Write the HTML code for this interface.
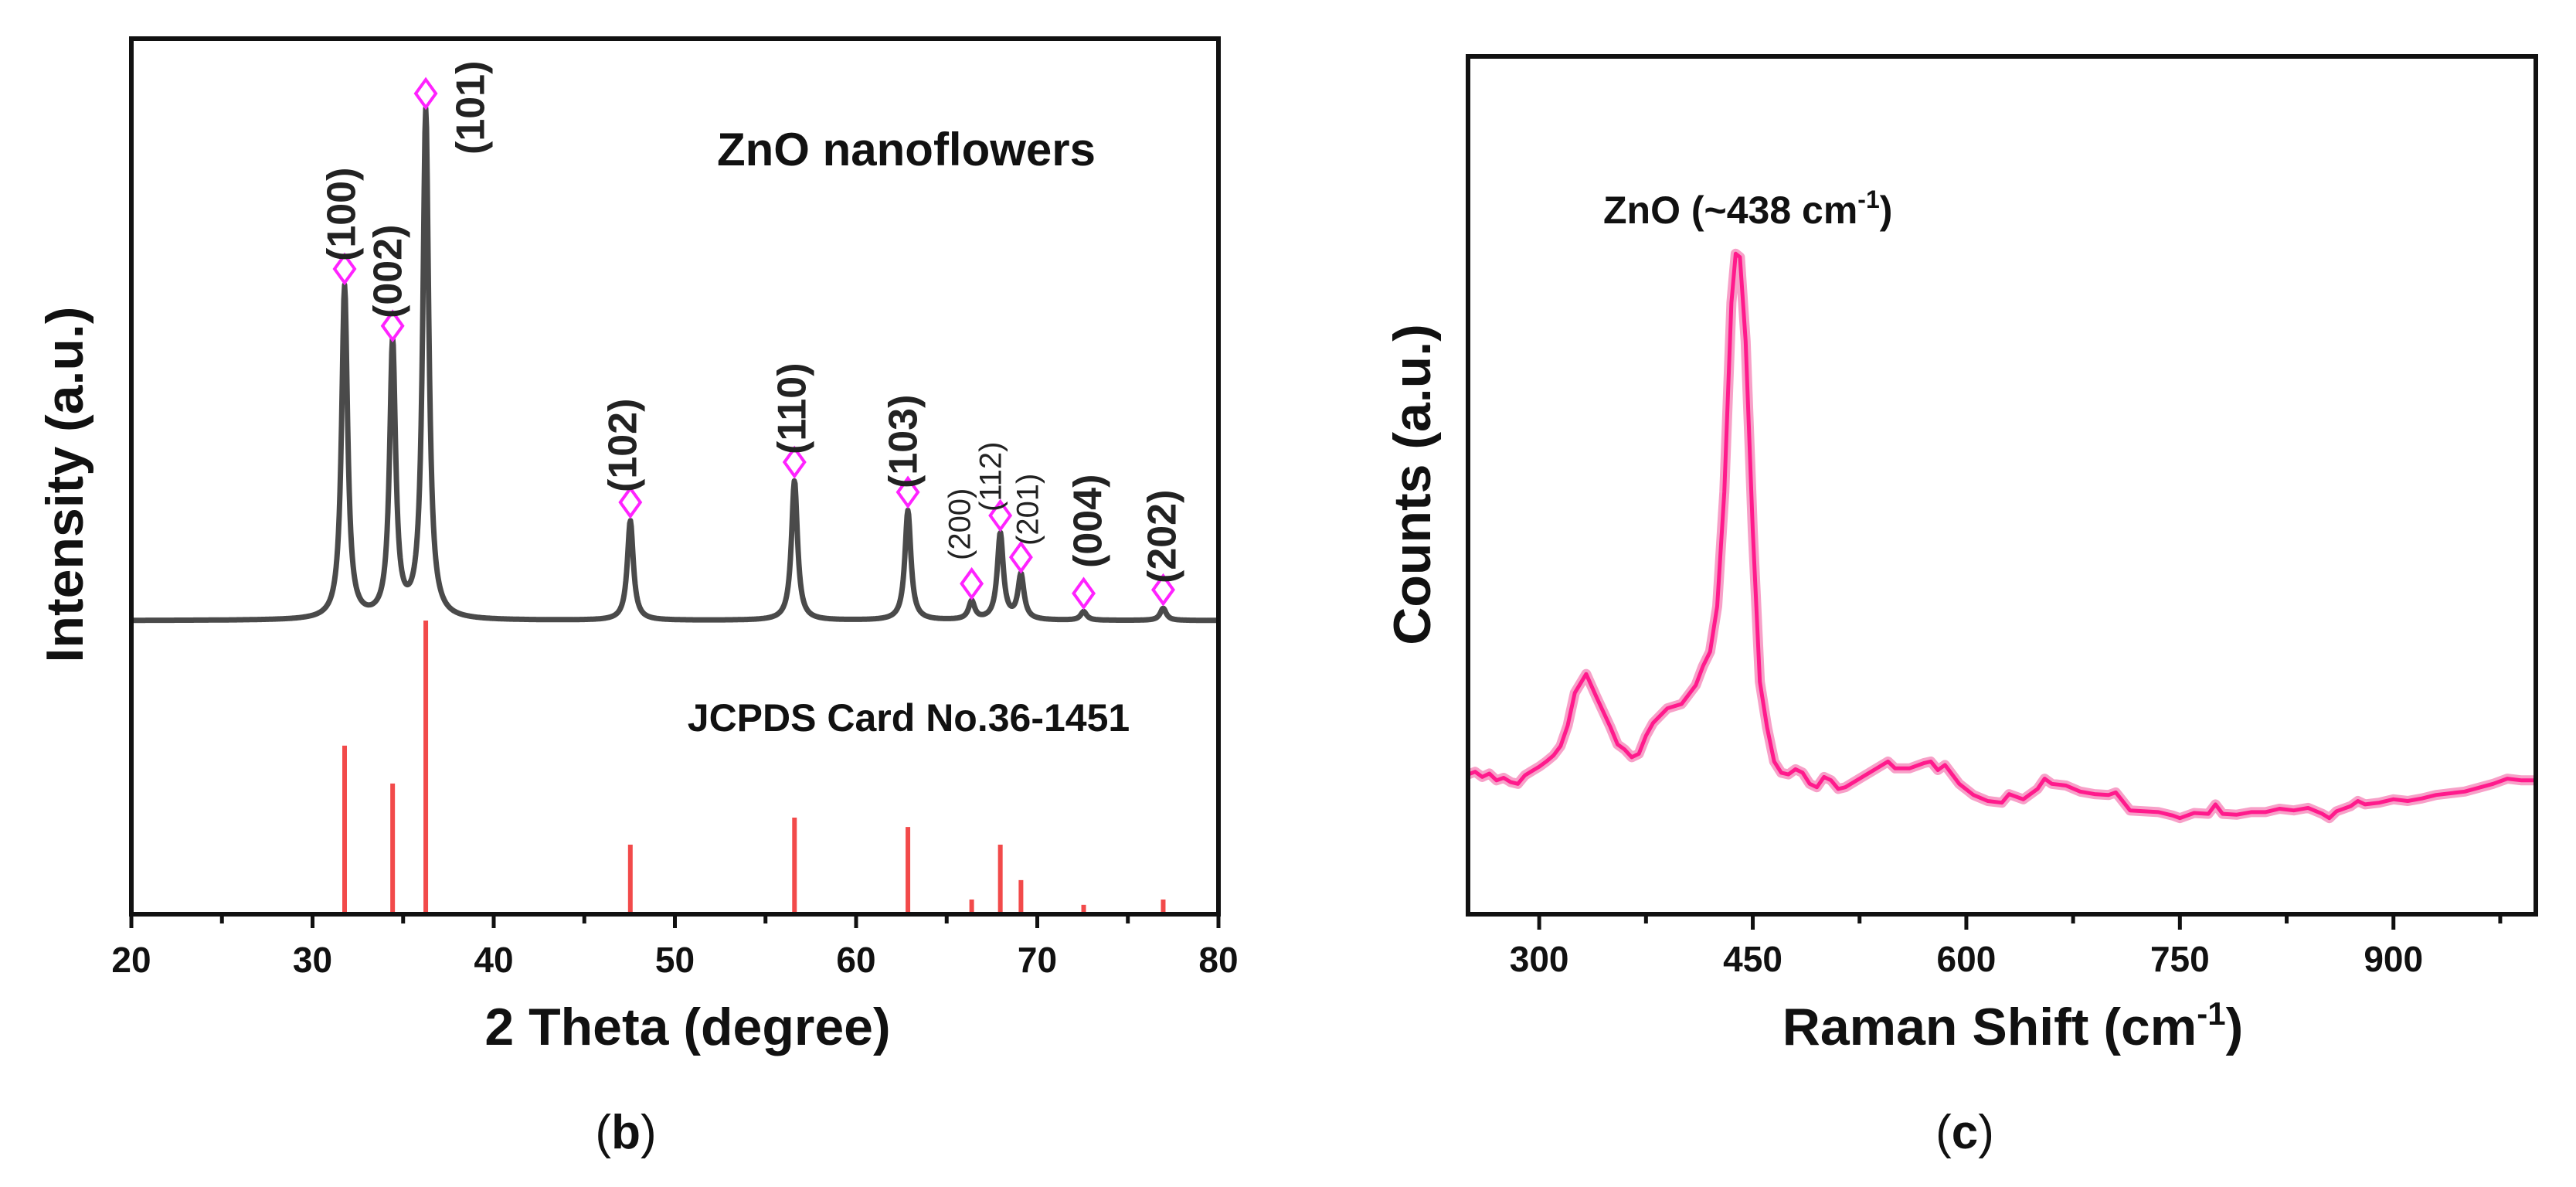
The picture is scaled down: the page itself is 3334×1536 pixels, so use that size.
<!DOCTYPE html>
<html><head><meta charset="utf-8"><style>
body{margin:0;background:#fff;}
svg{display:block;}
text{font-family:"Liberation Sans",Arial,sans-serif;}
</style></head><body>
<svg id="fig" width="3334" height="1536" viewBox="0 0 3334 1536" xmlns="http://www.w3.org/2000/svg">
<rect width="3334" height="1536" fill="#fff"/>
<g id="xrd"></g>
<g id="raman"></g>
</svg>
<script>
// XRD data
const peakPos = [31.77, 34.42, 36.25, 47.54, 56.6, 62.86, 66.38, 67.96, 69.1, 72.56, 76.95];
const peakLabels = ["(100)","(002)","(101)","(102)","(110)","(103)","(200)","(112)","(201)","(004)","(202)"];
const peakIntensity = [65.5, 54.3, 100, 19.6, 27.5, 21.6, 3.6, 17, 8.8, 1.7, 2.4];
const cardIntensity = [57.4, 44.5, 100, 23.7, 32.9, 29.7, 5, 23.7, 11.6, 3.2, 5];
const xrdTicks = [20, 30, 40, 50, 60, 70, 80];
// Raman data
const ramanShift = [250,255,260,265,270,275,280,285,290,295,300,305,310,315,320,325,333,340,350,355,360,365,370,375,380,390,400,410,415,420,425,430,435,438,441,445,450,455,460,465,470,475,480,485,490,495,500,505,510,515,525,535,545,550,560,570,575,580,585,595,605,615,625,630,640,650,655,660,670,680,690,700,705,715,735,745,750,760,770,775,780,790,800,810,820,830,840,850,855,860,870,875,880,890,900,910,920,930,950,970,980,990,1000];
const ramanCounts = [16.3,16.6,16.0,16.4,15.6,15.9,15.4,15.2,16.2,16.7,17.2,17.8,18.5,19.6,22.0,25.8,28.0,25.4,21.8,19.8,19.2,18.3,18.7,20.8,22.3,24.0,24.5,26.7,28.9,30.6,35.9,49.2,71.3,77.0,76.6,66.8,44.8,27.1,21.8,17.8,16.5,16.3,16.9,16.5,15.2,14.8,16.0,15.6,14.6,14.8,15.8,16.8,17.8,17.0,17.0,17.6,17.8,16.8,17.4,15.2,13.9,13.2,13.0,14.0,13.4,14.6,15.8,15.2,15.0,14.3,14.0,13.9,14.2,12.1,11.9,11.5,11.2,11.8,11.7,12.8,11.7,11.6,11.9,11.9,12.3,12.1,12.4,11.7,11.2,12.0,12.6,13.2,12.8,13.0,13.4,13.2,13.5,13.9,14.3,15.2,15.8,15.6,15.6];
const ramanTicks = [300, 450, 600, 750, 900];

const NS="http://www.w3.org/2000/svg";
function mk(parent,tag,attrs,text){const e=document.createElementNS(NS,tag);for(const k in attrs)e.setAttribute(k,attrs[k]);if(text!==undefined)e.textContent=text;parent.appendChild(e);return e;}

// ---------- XRD ----------
const gx=document.getElementById('xrd');
const L=170,R=1577,T=50,B=1183,BASE=803;
const xS=v=>L+(v-20)/60*(R-L);
const yXrd=v=>BASE-v*6.58;
const yCard=v=>B-v*3.8;
let d="";
for(let px=L;px<=R;px+=1){
  const tt=20+(px-L)/(R-L)*60;
  let s=0;
  for(let i=0;i<peakPos.length;i++){const g=0.2;s+=peakIntensity[i]*g*g/((tt-peakPos[i])**2+g*g);}
  d+=(px===L?"M":"L")+px+","+yXrd(s).toFixed(1);
}
let c=mk(gx,'path',{d:d,fill:'none',stroke:'#4a4a4a','stroke-width':7,'stroke-linejoin':'round'});


for(let i=0;i<peakPos.length;i++){
  const x=xS(peakPos[i]);
  const s=mk(gx,'line',{x1:x,x2:x,y1:B,y2:yCard(cardIntensity[i]),stroke:'#f24a4a','stroke-width':6});
  
  
  const yt=yXrd(peakIntensity[i])-24;
  const dm=mk(gx,'path',{d:`M${x},${yt-18} L${x+13},${yt} L${x},${yt+18} L${x-13},${yt} Z`,fill:'#fff',stroke:'#ff22ff','stroke-width':4});
  
  
}
// labels: [x center, bottom y, small]
const lblPlace=[[446,338,0],[506,412,0],[613,200,0],[810,637,0],[1029,588,0],[1173,632,0],[1245,725,1],[1285,662,1],[1333,706,1],[1412,735,0],[1508,755,0]];
for(let i=0;i<peakLabels.length;i++){
  const [x,y,sm]=lblPlace[i];
  const t=mk(gx,'text',{x:0,y:0,transform:`translate(${x},${y}) rotate(-90)`,'font-size':sm?40:52,'font-weight':sm?'normal':'bold',fill:'#222','dominant-baseline':'middle'},peakLabels[i]);
  
  
}
let f=mk(gx,'rect',{x:L,y:T,width:R-L,height:B-T,fill:'none',stroke:'#111','stroke-width':6});


for(let v=20;v<=80;v+=5){
  const tk=mk(gx,'line',{x1:xS(v),x2:xS(v),y1:B,y2:B+(v%10===0?18:12),stroke:'#111','stroke-width':5});
  
  
}
xrdTicks.forEach(v=>{
  const t=mk(gx,'text',{x:xS(v),y:1258,'font-size':46,'font-weight':'bold','text-anchor':'middle',fill:'#111'},String(v));
  
  
});
let t1=mk(gx,'text',{x:1173,y:214,'font-size':60,'font-weight':'bold','text-anchor':'middle',fill:'#111'},'ZnO nanoflowers');


let t2=mk(gx,'text',{x:1176,y:946,'font-size':50,'font-weight':'bold','text-anchor':'middle',fill:'#111'},'JCPDS Card No.36-1451');


let t3=mk(gx,'text',{x:890,y:1352,'font-size':68,'font-weight':'bold','text-anchor':'middle',fill:'#111'},'2 Theta (degree)');


let t4=mk(gx,'text',{x:0,y:0,transform:'translate(107,627) rotate(-90)','font-size':68,'font-weight':'bold','text-anchor':'middle',fill:'#111'},'Intensity (a.u.)');


let t5=mk(gx,'text',{x:810,y:1486,'font-size':62,'text-anchor':'middle',fill:'#111','font-family':'Liberation Serif, serif'});
t5.innerHTML='(<tspan font-weight="bold">b</tspan>)';



// ---------- Raman ----------
const gr=document.getElementById('raman');
const L2=1900,R2=3282,T2=73,B2=1183;
const xR=v=>L2+(v-250)/750*(R2-L2);
const yR=v=>B2-v*11.1;
let rd=ramanShift.map((v,i)=>(i?"L":"M")+xR(v).toFixed(1)+","+yR(ramanCounts[i]).toFixed(1)).join("");
let halo=mk(gr,'path',{d:rd,fill:'none',stroke:'#f7a0c8','stroke-width':13,'stroke-linejoin':'round'});


let rl=mk(gr,'path',{d:rd,fill:'none',stroke:'#ff1a8c','stroke-width':5,'stroke-linejoin':'round'});


let f2=mk(gr,'rect',{x:L2,y:T2,width:R2-L2,height:B2-T2,fill:'none',stroke:'#111','stroke-width':6});


for(let v=300;v<=1000;v+=75){
  const major=(v-300)%150===0;
  const tk=mk(gr,'line',{x1:xR(v),x2:xR(v),y1:B2,y2:B2+(major?20:12),stroke:'#111','stroke-width':5});
  
  
}
ramanTicks.forEach(v=>{
  const t=mk(gr,'text',{x:xR(v),y:1257,'font-size':46,'font-weight':'bold','text-anchor':'middle',fill:'#111'},String(v));
  
  
});
let r1=mk(gr,'text',{x:2075,y:289,'font-size':50,'font-weight':'bold',fill:'#111'});
r1.innerHTML='ZnO (~438 cm<tspan dy="-20" font-size="32">-1</tspan><tspan dy="20">)</tspan>';


let r2=mk(gr,'text',{x:2605,y:1352,'font-size':68,'font-weight':'bold','text-anchor':'middle',fill:'#111'});
r2.innerHTML='Raman Shift (cm<tspan dy="-26" font-size="42">-1</tspan><tspan dy="26">)</tspan>';


let r3=mk(gr,'text',{x:0,y:0,transform:'translate(1851,627) rotate(-90)','font-size':68,'font-weight':'bold','text-anchor':'middle',fill:'#111'},'Counts (a.u.)');


let r4=mk(gr,'text',{x:2543,y:1486,'font-size':62,'text-anchor':'middle',fill:'#111','font-family':'Liberation Serif, serif'});
r4.innerHTML='(<tspan font-weight="bold">c</tspan>)';


</script>
</body></html>
